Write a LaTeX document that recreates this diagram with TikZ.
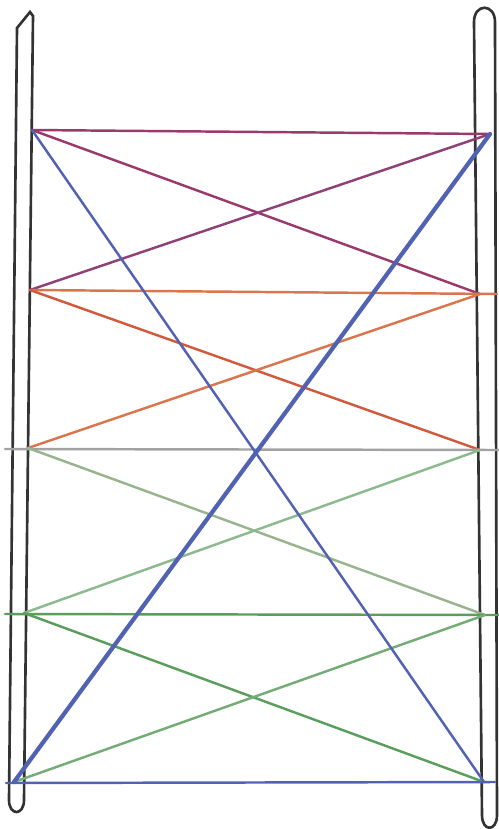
\documentclass[tikz,border=0pt]{standalone}
\usetikzlibrary{positioning}
\definecolor{mPost}{HTML}{333333}
\definecolor{mPlum}{HTML}{9A3A6C}
\definecolor{mOrange}{HTML}{D9764E}
\definecolor{mRust}{HTML}{D25A3C}
\definecolor{mGrey}{HTML}{A2A2A2}
\definecolor{mSage}{HTML}{98B48E}
\definecolor{mGreen}{HTML}{5A9E5C}
\definecolor{mBlue}{HTML}{5262B2}
\tikzset{
  post/.style={draw=mPost, line width=1.5pt, fill=white},
  rung/.style={line width=1.4pt, line cap=round},
}
\begin{document}
\begin{tikzpicture}[x=0.02cm, y=-0.02cm]
\useasboundingbox (0,0) rectangle (499,829);
% the two posts
\draw[post] (9,800) -- (17,28) -- (30,12) -- (33,16) -- (24,800)
  .. controls (24,816) and (9,816) .. (9,800) -- cycle;
\draw[post] (482,815) -- (474,22) .. controls (474,3) and (495,3) .. (495,22)
  -- (497,815) .. controls (497,832) and (482,832) .. (482,815) -- cycle;
% attachment points
\coordinate (l1) at (32,130);
\coordinate (l2) at (30,290);
\coordinate (l3) at (28,448);
\coordinate (l4) at (24,613);
\coordinate (l5) at (14,782);
\coordinate (r1) at (490,134);
\coordinate (r2) at (480,294);
\coordinate (r3) at (480,450);
\coordinate (r4) at (485,615);
\coordinate (r5) at (484,782);
\coordinate (e2) at (497,294);
\coordinate (s3) at (5,449);
\coordinate (e3) at (499,450);
\coordinate (s4) at (5,614);
\coordinate (e4) at (499,615);
\coordinate (s5) at (6,783);
\coordinate (e5) at (495,782);
% rungs
\draw[rung, mPlum] (l1) -- (r1);
\draw[rung, mPlum] (l1) -- (r2);
\draw[rung, mPlum!85!mBlue] (l2) -- (r1);
\draw[rung, mOrange] (l2) -- (e2);
\draw[rung, mRust] (l2) -- (r3);
\draw[rung, mOrange] (l3) -- (r2);
\draw[rung, mGrey] (s3) -- (e3);
\draw[rung, mSage] (l3) -- (r4);
\draw[rung, mGreen!70] (l4) -- (r3);
\draw[rung, mGreen] (s4) -- (e4);
\draw[rung, mGreen] (l4) -- (r5);
\draw[rung, mGreen!85] (l5) -- (r4);
\draw[rung, mBlue] (s5) -- (e5);
\draw[rung, mBlue] (l1) -- (r5);
\draw[rung, mBlue, line width=2.4pt] (l5) -- (r1);
\end{tikzpicture}
\end{document}
